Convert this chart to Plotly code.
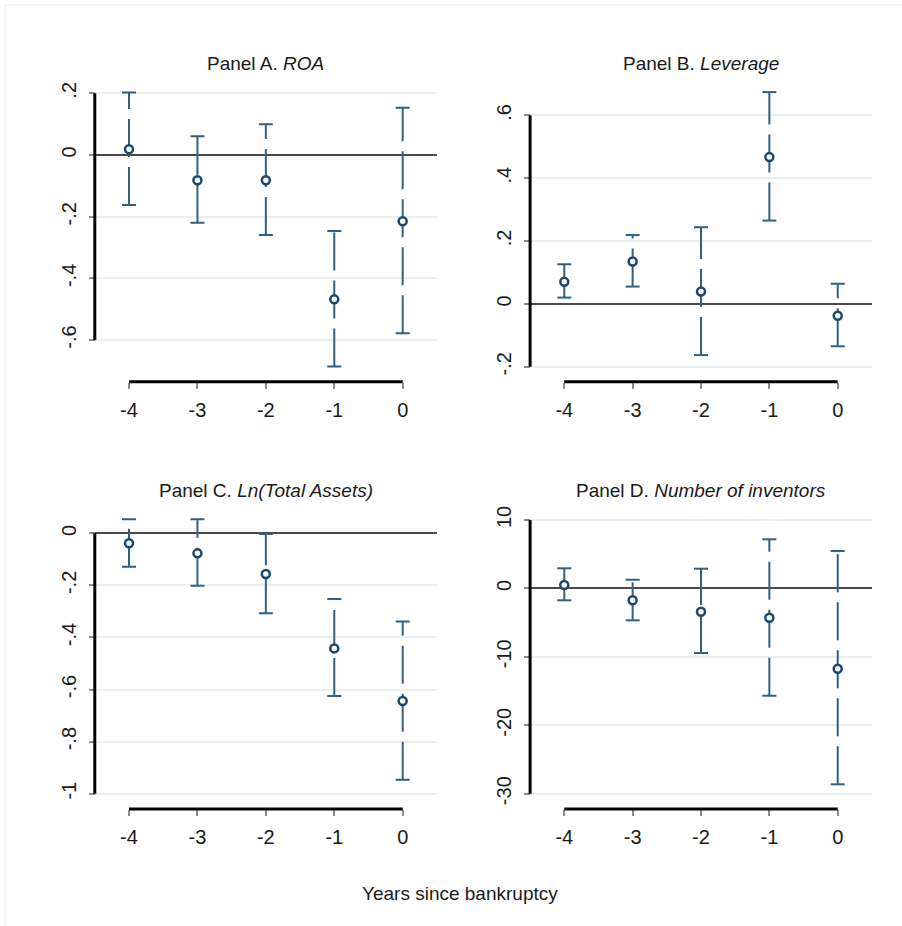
import plotly.graph_objects as go

# ---------------- data ----------------
years = [-4, -3, -2, -1, 0]

roa_est = [0.019, -0.082, -0.082, -0.468, -0.215]
roa_lo = [-0.162, -0.220, -0.259, -0.686, -0.578]
roa_hi = [0.203, 0.061, 0.100, -0.246, 0.153]

lev_est = [0.070, 0.135, 0.039, 0.467, -0.038]
lev_lo = [0.020, 0.055, -0.163, 0.265, -0.135]
lev_hi = [0.126, 0.219, 0.244, 0.674, 0.064]

lnta_est = [-0.038, -0.077, -0.156, -0.442, -0.644]
lnta_lo = [-0.128, -0.201, -0.307, -0.625, -0.946]
lnta_hi = [0.054, 0.054, -0.003, -0.252, -0.339]

inv_est = [0.50, -1.74, -3.41, -4.28, -11.74]
inv_lo = [-1.74, -4.66, -9.44, -15.68, -28.63]
inv_hi = [2.94, 1.27, 2.88, 7.18, 5.47]

titles = ["Panel A. <i>ROA</i>", "Panel B. <i>Leverage</i>",
          "Panel C. <i>Ln(Total Assets)</i>", "Panel D. <i>Number of inventors</i>"]

a_ticks = [-0.6, -0.4, -0.2, 0, 0.2]
a_labels = ["-.6", "-.4", "-.2", "0", ".2"]
b_ticks = [-0.2, 0, 0.2, 0.4, 0.6]
b_labels = ["-.2", "0", ".2", ".4", ".6"]
c_ticks = [-1, -0.8, -0.6, -0.4, -0.2, 0]
c_labels = ["-1", "-.8", "-.6", "-.4", "-.2", "0"]
d_ticks = [-30, -20, -10, 0, 10]
d_labels = ["-30", "-20", "-10", "0", "10"]
x_labels = ["-4", "-3", "-2", "-1", "0"]
x_title = "Years since bankruptcy"

# ---------------- layout geometry (pixels) ----------------
W, H = 902, 926
FONT = "Liberation Sans, Arial, sans-serif"
NAVY = "#1a476f"
BAR = "#33607f"


def px_x(p):
    return p / W


def px_y(p):
    return 1 - p / H


panels = [
    dict(est=roa_est, lo=roa_lo, hi=roa_hi, ticks=a_ticks, labels=a_labels,
         xdom=(94.8, 436.9), ydom=(88, 371), yrange=(-0.7002, 0.2172), xline=381.7, title_y=63),
    dict(est=lev_est, lo=lev_lo, hi=lev_hi, ticks=b_ticks, labels=b_labels,
         xdom=(530.1, 871.9), ydom=(88, 371), yrange=(-0.2137, 0.687), xline=381.7, title_y=63),
    dict(est=lnta_est, lo=lnta_lo, hi=lnta_hi, ticks=c_ticks, labels=c_labels,
         xdom=(94.8, 436.9), ydom=(515, 798), yrange=(-1.0165, 0.0703), xline=809, title_y=491),
    dict(est=inv_est, lo=inv_lo, hi=inv_hi, ticks=d_ticks, labels=d_labels,
         xdom=(530.1, 871.9), ydom=(515, 798), yrange=(-30.63, 10.73), xline=809, title_y=491),
]

fig = go.Figure()
shapes = []
annotations = []
layout_axes = {}

for i, p in enumerate(panels, start=1):
    xa = "x" if i == 1 else f"x{i}"
    ya = "y" if i == 1 else f"y{i}"
    xkey = "xaxis" if i == 1 else f"xaxis{i}"
    ykey = "yaxis" if i == 1 else f"yaxis{i}"

    # error bar lines (dashed, pattern starting at the lower end)
    ex, ey = [], []
    for x, lo, hi in zip(years, p["lo"], p["hi"]):
        ex += [x, x, None]
        ey += [lo, hi, None]
    fig.add_trace(go.Scatter(x=ex, y=ey, mode="lines", xaxis=xa, yaxis=ya,
                             line=dict(color=BAR, width=2, dash="38px,10px"),
                             hoverinfo="skip", showlegend=False))
    # caps
    fig.add_trace(go.Scatter(x=years + years, y=p["lo"] + p["hi"], mode="markers",
                             xaxis=xa, yaxis=ya,
                             marker=dict(symbol="line-ew", size=10,
                                         line=dict(color=BAR, width=2)),
                             hoverinfo="skip", showlegend=False))
    # point estimates
    fig.add_trace(go.Scatter(x=years, y=p["est"], mode="markers", xaxis=xa, yaxis=ya,
                             marker=dict(symbol="circle", size=8, color="white",
                                         line=dict(color=NAVY, width=2.5)),
                             showlegend=False))

    layout_axes[xkey] = dict(
        domain=[px_x(p["xdom"][0]), px_x(p["xdom"][1])],
        range=[-4.5, 0.5], anchor="free", position=px_y(p["xline"]),
        showline=False, showgrid=False, zeroline=False, automargin=False,
        tickmode="array", tickvals=years, ticktext=x_labels,
        ticks="outside", ticklen=6, tickwidth=1.5, tickcolor="#8c8c8c",
        ticklabelstandoff=4,
        tickfont=dict(family=FONT, size=20, color="#1a1a1a"),
        fixedrange=True,
    )
    layout_axes[ykey] = dict(
        domain=[px_y(p["ydom"][1]), px_y(p["ydom"][0])],
        range=list(p["yrange"]), anchor="free", position=px_x(p["xdom"][0]),
        showline=False, showgrid=True, gridcolor="#e8f0f2", gridwidth=1.5,
        zeroline=True, zerolinecolor="#4a4a4a", zerolinewidth=1.5, automargin=False,
        tickmode="array", tickvals=p["ticks"], ticktext=p["labels"],
        ticks="outside", ticklen=6, tickwidth=1.5, tickcolor="#8c8c8c",
        tickangle=-90, ticklabelstandoff=5,
        tickfont=dict(family=FONT, size=20, color="#1a1a1a"),
        fixedrange=True,
    )

    # y axis line spanning the tick range
    shapes.append(dict(type="line", xref=f"{xa} domain", yref=ya,
                       x0=0, x1=0, y0=min(p["ticks"]), y1=max(p["ticks"]),
                       line=dict(color="black", width=3)))
    # x axis line spanning the tick range
    shapes.append(dict(type="line", xref=xa, yref="paper",
                       x0=min(years), x1=max(years),
                       y0=px_y(p["xline"]), y1=px_y(p["xline"]),
                       line=dict(color="black", width=3)))

    annotations.append(dict(text=titles[i - 1], xref="paper", yref="paper",
                            x=px_x((p["xdom"][0] + p["xdom"][1]) / 2), y=px_y(p["title_y"]),
                            xanchor="center", yanchor="middle", showarrow=False,
                            font=dict(family=FONT, size=19, color="#1a1a1a")))

annotations.append(dict(text=x_title, xref="paper", yref="paper",
                        x=px_x(460), y=px_y(893), xanchor="center", yanchor="middle",
                        showarrow=False, font=dict(family=FONT, size=19, color="#1a1a1a")))

# faint outer frame
shapes.append(dict(type="rect", xref="paper", yref="paper",
                   x0=px_x(5), x1=px_x(912), y0=px_y(936), y1=px_y(5),
                   line=dict(color="#eeeeee", width=1), layer="below"))

fig.update_layout(
    width=W, height=H, autosize=False,
    margin=dict(l=0, r=0, t=0, b=0, pad=0, autoexpand=False),
    paper_bgcolor="white", plot_bgcolor="white",
    shapes=shapes, annotations=annotations,
    showlegend=False,
    **layout_axes,
)

fig.write_html(
    "out.html",
    config={"displayModeBar": False},
    post_script=(
        "document.documentElement.style.margin='0';"
        "document.body.style.margin='0';document.body.style.padding='0';"
        "document.body.style.overflow='hidden';"
        "document.documentElement.style.overflow='hidden';"
        "var gd=document.getElementById('{plot_id}');"
        "gd.style.position='fixed';gd.style.top='0px';gd.style.left='0px';"
    ),
)
